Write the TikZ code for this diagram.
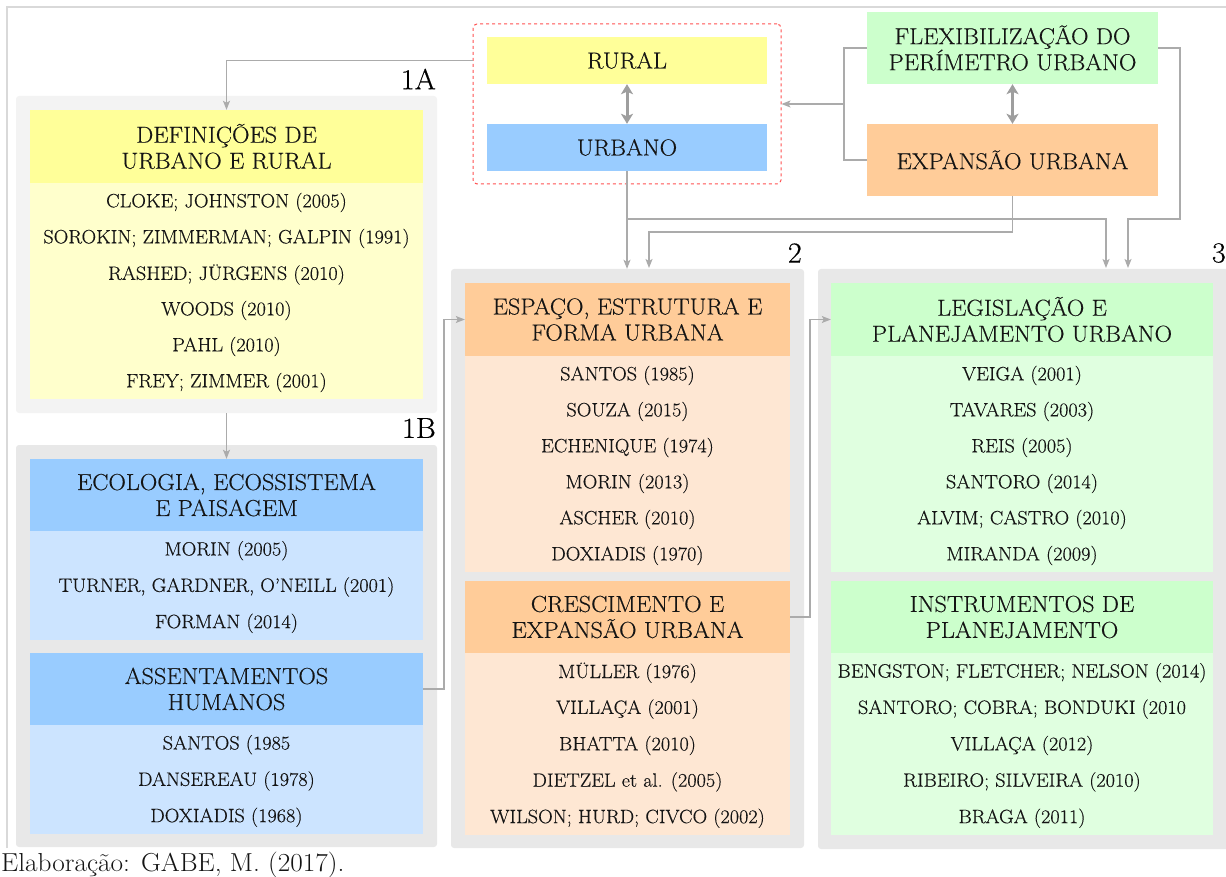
\documentclass[tikz,border=0pt]{standalone}
\usepackage{fontspec}
\setmainfont{Latin Modern Roman}[FakeStretch=1.05, FakeBold=0.35]
\newfontfamily\credfont{Latin Modern Roman}[FakeStretch=1.05]
\usetikzlibrary{arrows.meta,calc}

\definecolor{txt}{HTML}{141414}
\definecolor{framec}{HTML}{D9D9D9}
\definecolor{panelA}{HTML}{F3F3F3}
\definecolor{panelB}{HTML}{E8E8E8}
\definecolor{yhead}{HTML}{FFFF99}
\definecolor{ybody}{HTML}{FFFFCC}
\definecolor{bhead}{HTML}{99CCFF}
\definecolor{bbody}{HTML}{CCE4FF}
\definecolor{ohead}{HTML}{FFCC99}
\definecolor{obody}{HTML}{FEE7D3}
\definecolor{ghead}{HTML}{CCFFCC}
\definecolor{gbody}{HTML}{E0FFE0}
\definecolor{lnc}{HTML}{ABABAB}
\definecolor{dblc}{HTML}{9E9E9E}
\definecolor{redd}{HTML}{FF5050}

\newcommand\hdrfont{\fontsize{23.1}{26}\selectfont}
\newcommand\itmfont{\fontsize{19.3}{22}\selectfont}
\newcommand\numfont{\fontsize{29}{32}\selectfont}

\begin{document}
\begin{tikzpicture}[x=1pt,y=-1pt,
  panel/.style={fill=#1, draw=none, rounded corners=3pt, inner sep=0pt},
  hdr/.style={fill=#1, draw=none, inner sep=0pt, align=center, text=txt, font=\hdrfont},
  bodybox/.style={fill=#1, draw=none, inner sep=0pt},
  item/.style={inner sep=0pt, text=txt, font=\itmfont},
  num/.style={inner sep=0pt, anchor=east, text=black, font=\numfont},
  conn/.style={draw=lnc, line width=1.1pt},
  arr/.style={conn, -{Stealth[length=9pt,width=7pt,inset=2pt]}},
  dbl/.style={draw=dblc, line width=3pt,
    {Stealth[length=10pt,width=12pt,inset=2.5pt]}-{Stealth[length=10pt,width=12pt,inset=2.5pt]}}
]
\useasboundingbox (0,0) rectangle (1226,877);
\clip (0,0) rectangle (1226,877);

% outer frame
\draw[framec, line width=1.5pt] (7,848) -- (7,7) -- (1230,7);

% ---------- panels ----------
\node[panel=panelA, minimum width=421pt, minimum height=317pt] (p1a) at (226.5,254.5) {};
\node[panel=panelB, minimum width=421pt, minimum height=402pt] (p1b) at (226.5,646) {};
\node[panel=panelB, minimum width=353pt, minimum height=579pt] (p2) at (627.5,558.5) {};
\node[panel=panelB, minimum width=414pt, minimum height=580pt] (p3) at (1025,559) {};

\node[num] (n1a) at (436,79) {1A};
\node[num] (n1b) at (436,428) {1B};
\node[num] (n2) at (802,253) {2};
\node[num] (n3) at (1226,253) {3};

% ---------- block 1A ----------
\node[hdr=yhead, minimum width=393pt, minimum height=73pt] (h1a) at (226.5,146.5) {DEFINIÇÕES DE\\URBANO E RURAL};
\node[bodybox=ybody, minimum width=393pt, minimum height=216pt] (b1a) at (226.5,291) {};
\foreach \t [count=\i] in {{CLOKE; JOHNSTON (2005)},{SOROKIN; ZIMMERMAN; GALPIN (1991)},{RASHED; JÜRGENS (2010)},{WOODS (2010)},{PAHL (2010)},{FREY; ZIMMER (2001)}}
  \node[item] (a-\i) at (226.5,{184.5+36*(\i-0.5)}) {\t};

% ---------- block 1B ----------
\node[hdr=bhead, minimum width=393pt, minimum height=72pt] (heco) at (226.5,495) {ECOLOGIA, ECOSSISTEMA\\E PAISAGEM};
\node[bodybox=bbody, minimum width=393pt, minimum height=109pt] (beco) at (226.5,585.5) {};
\foreach \t [count=\i] in {{MORIN (2005)},{TURNER, GARDNER, O'NEILL (2001)},{FORMAN (2014)}}
  \node[item] (e-\i) at (226.5,{532.5+36.33*(\i-0.5)}) {\t};

\node[hdr=bhead, minimum width=393pt, minimum height=72pt] (hass) at (226.5,689) {ASSENTAMENTOS\\HUMANOS};
\node[bodybox=bbody, minimum width=393pt, minimum height=109pt] (bass) at (226.5,779.5) {};
\foreach \t [count=\i] in {{SANTOS (1985},{DANSEREAU (1978)},{DOXIADIS (1968)}}
  \node[item] (s-\i) at (226.5,{726.5+36.33*(\i-0.5)}) {\t};

% ---------- block 2 ----------
\node[hdr=ohead, minimum width=325pt, minimum height=73pt] (hesp) at (627.5,319.5) {ESPAÇO, ESTRUTURA E\\FORMA URBANA};
\node[bodybox=obody, minimum width=325pt, minimum height=216pt] (besp) at (627.5,464) {};
\foreach \t [count=\i] in {{SANTOS (1985)},{SOUZA (2015)},{ECHENIQUE (1974)},{MORIN (2013)},{ASCHER (2010)},{DOXIADIS (1970)}}
  \node[item] (f-\i) at (627.5,{357.5+36*(\i-0.5)}) {\t};

\node[hdr=ohead, minimum width=325pt, minimum height=72pt] (hcre) at (627.5,617) {CRESCIMENTO E\\EXPANSÃO URBANA};
\node[bodybox=obody, minimum width=325pt, minimum height=182pt] (bcre) at (627.5,744) {};
\foreach \t [count=\i] in {{MÜLLER (1976)},{VILLAÇA (2001)},{BHATTA (2010)},{DIETZEL et al. (2005)},{WILSON; HURD; CIVCO (2002)}}
  \node[item] (c-\i) at (627.5,{654.5+36.4*(\i-0.5)}) {\t};

% ---------- block 3 ----------
\node[hdr=ghead, minimum width=382pt, minimum height=73pt] (hleg) at (1022,319.5) {LEGISLAÇÃO E\\PLANEJAMENTO URBANO};
\node[bodybox=gbody, minimum width=382pt, minimum height=216pt] (bleg) at (1022,464) {};
\foreach \t [count=\i] in {{VEIGA (2001)},{TAVARES (2003)},{REIS (2005)},{SANTORO (2014)},{ALVIM; CASTRO (2010)},{MIRANDA (2009)}}
  \node[item] (l-\i) at (1022,{357.5+36*(\i-0.5)}) {\t};

\node[hdr=ghead, minimum width=382pt, minimum height=72pt] (hins) at (1022,617) {INSTRUMENTOS DE\\PLANEJAMENTO};
\node[bodybox=gbody, minimum width=382pt, minimum height=182pt] (bins) at (1022,744) {};
\foreach \t [count=\i] in {{BENGSTON; FLETCHER; NELSON (2014)},{SANTORO; COBRA; BONDUKI (2010},{VILLAÇA (2012)},{RIBEIRO; SILVEIRA (2010)},{BRAGA (2011)}}
  \node[item] (i-\i) at (1022,{654.5+36.4*(\i-0.5)}) {\t};

% ---------- top group ----------
\node[draw=redd, dashed, line width=1pt, rounded corners=4pt, inner sep=0pt,
      minimum width=308pt, minimum height=160pt] (rb) at (627,104) {};
\node[hdr=yhead, minimum width=280pt, minimum height=47pt] (rural) at (627,60.5) {RURAL};
\node[hdr=bhead, minimum width=280pt, minimum height=47pt] (urb) at (627,147.5) {URBANO};
\node[hdr=ghead, minimum width=291pt, minimum height=72pt] (flex) at (1012.5,48) {FLEXIBILIZAÇÃO DO\\PERÍMETRO URBANO};
\node[hdr=ohead, minimum width=291pt, minimum height=72pt] (exp) at (1012.5,160) {EXPANSÃO URBANA};

\draw[dbl] (rural.south) -- (urb.north);
\draw[dbl] (flex.south) -- (exp.north);

% ---------- connectors ----------
\coordinate (j1) at (844,104);
\coordinate (j2) at (627,219);
\draw[conn] (flex.west) -- (844,48) |- (exp.west);
\draw[arr] (j1) -- (rb.east);
\draw[arr] (rb.west |- rural.center) -| (h1a.north);
\draw[arr] (p1a.south) -- (heco.north);
\draw[arr] (urb.south) -- (urb.south |- p2.north);
\draw[arr] (j2) -| (1106,268);
\draw[arr] (exp.south) -- (1012.5,232) -| (649,268);
\draw[arr] (flex.east) -- (1180,48) -- (1180,219) -| (1128,268);
\draw[arr] (hass.east) -- (444,689) |- (hesp.west);
\draw[arr] (hcre.east) -- (810,617) |- (hleg.west);

% ---------- credit line ----------
\node[inner sep=0pt, anchor=base west, text=txt, font=\credfont\fontsize{26}{30}\selectfont] (cred) at (1,871) {Elaboração: GABE, M. (2017).};
\end{tikzpicture}
\end{document}
